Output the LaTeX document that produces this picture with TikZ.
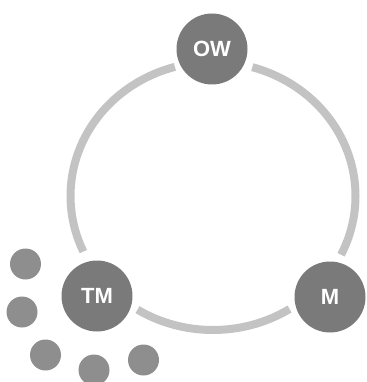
\documentclass[tikz,border=0pt]{standalone}
\usepackage{fontspec}
\setmainfont{Liberation Sans}
\begin{document}
\begin{tikzpicture}[x=1pt,y=1pt,
  hub/.style={circle,fill=hubgray,text=white,minimum size=71pt,inner sep=0pt,
    font=\fontsize{22}{26}\selectfont\bfseries},
  dot/.style={circle,fill=dotgray,minimum size=31pt,inner sep=0pt},
  ring/.style={draw=ringgray,line width=8pt,line cap=butt}]
\definecolor{hubgray}{HTML}{7A7A7A}
\definecolor{dotgray}{HTML}{8E8E8E}
\definecolor{ringgray}{HTML}{C3C3C3}
\useasboundingbox (0,0) rectangle (366,-382);
\coordinate (c) at (213,-196);
\draw[ring] (c) ++(105.5:142.5 and 134) arc[start angle=105.5,end angle=204.5,x radius=142.5,y radius=134];
\draw[ring] (c) ++(238:142.5 and 134) arc[start angle=238,end angle=302.5,x radius=142.5,y radius=134];
\draw[ring] (c) ++(334:142.5 and 134) arc[start angle=334,end angle=434,x radius=142.5,y radius=134];
\node[hub] (ow) at (212,-49) {OW};
\node[hub] (tm) at (97,-296) {TM};
\node[hub] (m) at (330,-297) {M};
\node[dot] (d1) at (25.5,-264) {};
\node[dot] (d2) at (22,-312) {};
\node[dot] (d3) at (45.5,-355) {};
\node[dot] (d4) at (94,-370) {};
\node[dot] (d5) at (143.5,-360) {};
\end{tikzpicture}
\end{document}
